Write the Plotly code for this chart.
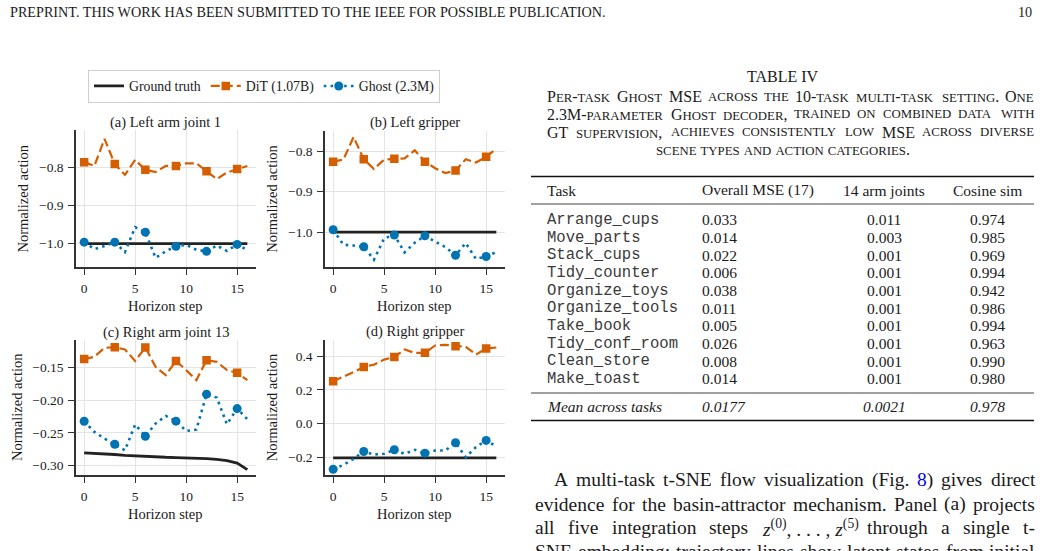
import plotly.graph_objects as go

# ---------------- data ----------------
steps = [0, 1, 2, 3, 4, 5, 6, 7, 8, 9, 10, 11, 12, 13, 14, 15, 16]
marker_steps = [0, 3, 6, 9, 12, 15]

a_gt = [-1.0, -1.0, -1.0, -1.0, -1.0, -1.0, -1.0, -1.0, -1.0, -1.0, -1.0, -1.0, -1.0, -1.0, -1.0, -1.0, -1.0]
a_dit = [-0.787, -0.797, -0.726, -0.792, -0.820, -0.781, -0.807, -0.813, -0.797, -0.797,
         -0.790, -0.790, -0.811, -0.831, -0.814, -0.805, -0.797]
a_ghost = [-0.996, -1.014, -1.006, -0.996, -1.022, -0.957, -0.970, -1.037, -1.020, -1.007,
           -1.003, -1.016, -1.020, -1.005, -1.019, -1.002, -1.017]

b_gt = [-1.0, -1.0, -1.0, -1.0, -1.0, -1.0, -1.0, -1.0, -1.0, -1.0, -1.0, -1.0, -1.0, -1.0, -1.0, -1.0, -1.0]
b_dit = [-0.826, -0.821, -0.765, -0.820, -0.844, -0.821, -0.819, -0.818, -0.798, -0.826,
         -0.842, -0.854, -0.848, -0.820, -0.828, -0.814, -0.794]
b_ghost = [-0.994, -1.031, -1.033, -1.036, -1.068, -1.015, -1.007, -1.050, -1.026, -1.009,
           -1.023, -1.037, -1.057, -1.027, -1.066, -1.060, -1.049]

c_gt = [-0.2806, -0.2812, -0.2820, -0.2830, -0.2842, -0.2852, -0.2860, -0.2866, -0.2872, -0.2876,
        -0.2880, -0.2886, -0.2894, -0.2905, -0.2922, -0.2960, -0.3060]
c_dit = [-0.1372, -0.1337, -0.1200, -0.1190, -0.1224, -0.1400, -0.1194, -0.1490, -0.1617, -0.1400,
         -0.1540, -0.1694, -0.1388, -0.1413, -0.1540, -0.1580, -0.1694]
c_ghost = [-0.2321, -0.2485, -0.2587, -0.2673, -0.2765, -0.2372, -0.2551, -0.2357, -0.2240, -0.2320,
           -0.2470, -0.2450, -0.1908, -0.1960, -0.2367, -0.2128, -0.2290]

d_gt = [-0.205, -0.205, -0.205, -0.205, -0.205, -0.205, -0.205, -0.205, -0.205, -0.205,
        -0.205, -0.205, -0.205, -0.205, -0.205, -0.205, -0.205]
d_dit = [0.251, 0.277, 0.306, 0.336, 0.350, 0.380, 0.396, 0.440, 0.420, 0.420,
         0.464, 0.468, 0.460, 0.456, 0.410, 0.446, 0.452]
d_ghost = [-0.273, -0.247, -0.211, -0.167, -0.185, -0.181, -0.157, -0.181, -0.157, -0.177,
           -0.161, -0.161, -0.115, -0.201, -0.141, -0.101, -0.137]

panel_titles = ["(a) Left arm joint 1", "(b) Left gripper", "(c) Right arm joint 13", "(d) Right gripper"]
legend_names = ["Ground truth", "DiT (1.07B)", "Ghost (2.3M)"]
x_tickvals = [0, 5, 10, 15]

table_header = ["Task", "Overall MSE (17)", "14 arm joints", "Cosine sim"]
tasks = ["Arrange_cups", "Move_parts", "Stack_cups", "Tidy_counter", "Organize_toys",
         "Organize_tools", "Take_book", "Tidy_conf_room", "Clean_store", "Make_toast"]
overall_mse = ["0.033", "0.014", "0.022", "0.006", "0.038", "0.011", "0.005", "0.026", "0.008", "0.014"]
arm_mse = ["0.011", "0.003", "0.001", "0.001", "0.001", "0.001", "0.001", "0.001", "0.001", "0.001"]
cosine_sim = ["0.974", "0.985", "0.969", "0.994", "0.942", "0.986", "0.994", "0.963", "0.990", "0.980"]
mean_row = ["Mean across tasks", "0.0177", "0.0021", "0.978"]

caption_title = "TABLE IV"
caption_lines = ["Per-task Ghost MSE across the 10-task multi-task setting. One",
                 "2.3M-parameter Ghost decoder, trained on combined data with",
                 "GT supervision, achieves consistently low MSE across diverse",
                 "scene types and action categories."]

header_text = "PREPRINT. THIS WORK HAS BEEN SUBMITTED TO THE IEEE FOR POSSIBLE PUBLICATION."
page_number = "10"

para_lines = [
    ["A", "multi-task", "t-SNE", "flow", "visualization", "(Fig.", "8)", "gives", "direct"],
    ["evidence", "for", "the", "basin-attractor", "mechanism.", "Panel", "(a)", "projects"],
    ["all", "five", "integration", "steps", "z(0),...,z(5)", "through", "a", "single", "t-"],
    ["SNE", "embedding;", "trajectory", "lines", "show", "latent", "states", "from", "initial"],
]

# ---------------- styling ----------------
W, H = 1042, 551
SERIF = "Liberation Serif"
MONO = "Liberation Mono"
GT_C = "#222222"
DIT_C = "#D55E00"
GHOST_C = "#0173B2"
TXT = "#1a1a1a"


def px(x):
    return x / W


def py(y):
    return 1 - y / H


TW = {' ': 250, '!': 333, '(': 333, ')': 333, ',': 250, '-': 333, '.': 250, '/': 278, ':': 278, ';': 278,
      '0': 500, '1': 500, '2': 500, '3': 500, '4': 500, '5': 500, '6': 500, '7': 500, '8': 500, '9': 500,
      'A': 722, 'B': 667, 'C': 667, 'D': 722, 'E': 611, 'F': 556, 'G': 722, 'H': 722, 'I': 333, 'J': 389,
      'K': 722, 'L': 611, 'M': 889, 'N': 722, 'O': 722, 'P': 556, 'Q': 722, 'R': 667, 'S': 556, 'T': 611,
      'U': 722, 'V': 722, 'W': 944, 'X': 722, 'Y': 722, 'Z': 611,
      'a': 444, 'b': 500, 'c': 444, 'd': 500, 'e': 444, 'f': 333, 'g': 500, 'h': 500, 'i': 278, 'j': 278,
      'k': 500, 'l': 278, 'm': 778, 'n': 500, 'o': 500, 'p': 500, 'q': 500, 'r': 333, 's': 389, 't': 278,
      'u': 500, 'v': 500, 'w': 722, 'x': 500, 'y': 500, 'z': 444}


def tw(s, size):
    return sum(TW.get(c, 500) for c in s) * size / 1000


def smallcaps_html(s, small):
    out, run, low = [], "", None
    for c in s:
        is_low = c.islower()
        if low is None or is_low == low:
            run += c
        else:
            out.append(f'<span style="font-size:{small}px">{run.upper()}</span>' if low else run)
            run = c
        low = is_low
    if run:
        out.append(f'<span style="font-size:{small}px">{run.upper()}</span>' if low else run)
    return "".join(out)


def smallcaps_width(s, big, small):
    return sum(TW.get(c.upper(), 500) * small / 1000 if c.islower() else TW.get(c, 500) * big / 1000 for c in s)


fig = go.Figure()
annotations = []
shapes = []

panels = [
    dict(gt=a_gt, dit=a_dit, ghost=a_ghost, yr=[-1.061, -0.703], dtick=0.1, fmt=".1f",
         xd=(76, 255.5), yd=(130, 267), ylab_x=22),
    dict(gt=b_gt, dit=b_dit, ghost=b_ghost, yr=[-1.086, -0.749], dtick=0.1, fmt=".1f",
         xd=(325, 504.5), yd=(130.5, 267), ylab_x=272),
    dict(gt=c_gt, dit=c_dit, ghost=c_ghost, yr=[-0.3143, -0.108], dtick=0.05, fmt=".2f",
         xd=(76, 255.5), yd=(340, 475), ylab_x=16.5),
    dict(gt=d_gt, dit=d_dit, ghost=d_ghost, yr=[-0.307, 0.4995], dtick=0.2, fmt=".1f",
         xd=(325, 504.5), yd=(339.5, 475), ylab_x=272),
]

for k, p in enumerate(panels, start=1):
    xa = "x" if k == 1 else f"x{k}"
    ya = "y" if k == 1 else f"y{k}"
    mx = [steps[i] for i in marker_steps]
    fig.add_trace(go.Scatter(x=steps, y=p["gt"], mode="lines", line=dict(color=GT_C, width=2.8),
                             xaxis=xa, yaxis=ya, showlegend=False, hoverinfo="skip"))
    fig.add_trace(go.Scatter(x=steps, y=p["dit"], mode="lines",
                             line=dict(color=DIT_C, width=2.2, dash="9px,4px"),
                             xaxis=xa, yaxis=ya, showlegend=False, hoverinfo="skip"))
    fig.add_trace(go.Scatter(x=mx, y=[p["dit"][i] for i in marker_steps], mode="markers",
                             marker=dict(symbol="square", size=8.5, color=DIT_C),
                             xaxis=xa, yaxis=ya, showlegend=False, hoverinfo="skip"))
    fig.add_trace(go.Scatter(x=steps, y=p["ghost"], mode="lines",
                             line=dict(color=GHOST_C, width=2.6, dash="2.6px,4.2px"),
                             xaxis=xa, yaxis=ya, showlegend=False, hoverinfo="skip"))
    fig.add_trace(go.Scatter(x=mx, y=[p["ghost"][i] for i in marker_steps], mode="markers",
                             marker=dict(symbol="circle", size=9, color=GHOST_C),
                             xaxis=xa, yaxis=ya, showlegend=False, hoverinfo="skip"))

    common = dict(showline=True, linecolor="#333333", linewidth=1.5, ticks="outside", ticklen=6,
                  tickwidth=1.3, tickcolor="#333333", showgrid=True, gridcolor="#e4e4e4", gridwidth=1,
                  zeroline=False, tickfont=dict(family=SERIF, size=13.5, color=TXT), ticklabelstandoff=2)
    xkey = "xaxis" if k == 1 else f"xaxis{k}"
    ykey = "yaxis" if k == 1 else f"yaxis{k}"
    fig.layout[xkey] = dict(domain=[px(p["xd"][0]), px(p["xd"][1])], range=[-0.8, 16.8],
                            tickvals=x_tickvals, anchor=ya, **common)
    fig.layout[ykey] = dict(domain=[py(p["yd"][1]), py(p["yd"][0])], range=p["yr"], dtick=p["dtick"],
                            tickformat=p["fmt"], anchor=xa, **common)

    cx = (p["xd"][0] + p["xd"][1]) / 2
    cy = (p["yd"][0] + p["yd"][1]) / 2
    annotations.append(dict(text=panel_titles[k - 1], x=px(cx), y=py(p["yd"][0] - 8), xref="paper", yref="paper",
                            xanchor="center", yanchor="middle", showarrow=False,
                            font=dict(family=SERIF, size=14.5, color=TXT)))
    annotations.append(dict(text="Normalized action", x=px(p["ylab_x"]), y=py(cy), xref="paper", yref="paper",
                            xanchor="center", yanchor="middle", textangle=-90, showarrow=False,
                            font=dict(family=SERIF, size=14.5, color=TXT)))
    annotations.append(dict(text="Horizon step", x=px(cx), y=py(p["yd"][1] + 39), xref="paper", yref="paper",
                            xanchor="center", yanchor="middle", showarrow=False,
                            font=dict(family=SERIF, size=14.5, color=TXT)))

# legend entries
fig.add_trace(go.Scatter(x=[None], y=[None], mode="lines", name=legend_names[0],
                         line=dict(color=GT_C, width=2.8)))
fig.add_trace(go.Scatter(x=[None], y=[None], mode="lines+markers", name=legend_names[1],
                         line=dict(color=DIT_C, width=2.2, dash="9px,4px"),
                         marker=dict(symbol="square", size=8.5, color=DIT_C)))
fig.add_trace(go.Scatter(x=[None], y=[None], mode="lines+markers", name=legend_names[2],
                         line=dict(color=GHOST_C, width=2.6, dash="2.6px,4.2px"),
                         marker=dict(symbol="circle", size=9, color=GHOST_C)))

# ---------------- page header ----------------
annotations.append(dict(text=header_text, x=px(8), y=py(12), xref="paper", yref="paper", xanchor="left",
                        yanchor="middle", showarrow=False, font=dict(family=SERIF, size=14.2, color=TXT)))
annotations.append(dict(text=page_number, x=px(1034), y=py(12), xref="paper", yref="paper", xanchor="right",
                        yanchor="middle", showarrow=False, font=dict(family=SERIF, size=14.2, color=TXT)))

# ---------------- table caption ----------------
annotations.append(dict(text=caption_title, x=px(783), y=py(77), xref="paper", yref="paper", xanchor="center",
                        yanchor="middle", showarrow=False, font=dict(family=SERIF, size=16, color=TXT)))
BIG, SMALL = 16, 12.8
cap_y = [96.7, 114.3, 132, 149.5]
for li, line in enumerate(caption_lines):
    if li < len(caption_lines) - 1:
        words = line.split(" ")
        widths = [smallcaps_width(w, BIG, SMALL) for w in words]
        x0, x1 = 545, 1032
        gap = (x1 - x0 - sum(widths)) / (len(words) - 1)
        x = x0
        for w, wd in zip(words, widths):
            annotations.append(dict(text=smallcaps_html(w, SMALL), x=px(x), y=py(cap_y[li]), xref="paper",
                                    yref="paper", xanchor="left", yanchor="middle", showarrow=False,
                                    font=dict(family=SERIF, size=BIG, color=TXT)))
            x += wd + gap
    else:
        annotations.append(dict(text=smallcaps_html(line, SMALL), x=px(783), y=py(cap_y[li]), xref="paper",
                                yref="paper", xanchor="center", yanchor="middle", showarrow=False,
                                font=dict(family=SERIF, size=BIG, color=TXT)))

# ---------------- table body ----------------
T_X0, T_X1 = 531, 1034
for yy, wdt in [(176.5, 1.6), (204, 0.8), (393, 0.8), (420.5, 1.6)]:
    shapes.append(dict(type="line", xref="paper", yref="paper", x0=px(T_X0), x1=px(T_X1), y0=py(yy), y1=py(yy),
                       line=dict(color="#111111", width=wdt)))

col_x = [545, 700, 884, 987]
col_anchor = ["left", "left", "center", "center"]
TFS = 15.5
for c, h in enumerate(table_header):
    annotations.append(dict(text=h, x=px(col_x[c]), y=py(190.5), xref="paper", yref="paper",
                            xanchor=col_anchor[c], yanchor="middle", showarrow=False,
                            font=dict(family=SERIF, size=TFS, color=TXT)))
for r in range(len(tasks)):
    yy = 220 + r * 17.65
    row = [tasks[r], overall_mse[r], arm_mse[r], cosine_sim[r]]
    for c, val in enumerate(row):
        annotations.append(dict(text=val, x=px(col_x[c]), y=py(yy), xref="paper", yref="paper",
                                xanchor=col_anchor[c], yanchor="middle", showarrow=False,
                                font=dict(family=MONO if c == 0 else SERIF, size=15.6 if c == 0 else TFS,
                                          color="#3a3a3a" if c == 0 else TXT)))
for c, val in enumerate(mean_row):
    annotations.append(dict(text=f"<i>{val}</i>", x=px(col_x[c]), y=py(406.7), xref="paper", yref="paper",
                            xanchor=col_anchor[c], yanchor="middle", showarrow=False,
                            font=dict(family=SERIF, size=TFS, color=TXT)))

# ---------------- paragraph ----------------
PFS = 19.5
para_y = [479.5, 504, 527.5, 551.5]
para_x0 = [552, 533, 533, 533]
for li, words in enumerate(para_lines):
    htmls, widths = [], []
    for w in words:
        if w.startswith("z("):
            htmls.append("<i>z</i><sup>(0)</sup>, . . . , <i>z</i><sup>(5)</sup>")
            widths.append(92)
        elif w == "8)":
            htmls.append('<span style="color:#0000ee">8</span>)')
            widths.append(tw(w, PFS))
        else:
            htmls.append(w)
            widths.append(tw(w, PFS))
    x0, x1 = para_x0[li], 1033
    gap = (x1 - x0 - sum(widths)) / (len(words) - 1)
    x = x0
    for hh, wd in zip(htmls, widths):
        annotations.append(dict(text=hh, x=px(x), y=py(para_y[li]), xref="paper", yref="paper",
                                xanchor="left", yanchor="middle", showarrow=False,
                                font=dict(family=SERIF, size=PFS, color=TXT)))
        x += wd + gap

fig.update_layout(
    width=W, height=H, margin=dict(l=0, r=0, t=0, b=0),
    paper_bgcolor="white", plot_bgcolor="white",
    font=dict(family=SERIF, color=TXT),
    showlegend=True,
    legend=dict(orientation="h", x=px(88), y=py(69.5), xanchor="left", yanchor="top",
                bordercolor="#cfcfcf", borderwidth=1, bgcolor="white",
                font=dict(family=SERIF, size=13.8, color=TXT), itemwidth=30, tracegroupgap=0),
    annotations=annotations, shapes=shapes,
)

fig.write_html("out.html", config={"displayModeBar": False})
